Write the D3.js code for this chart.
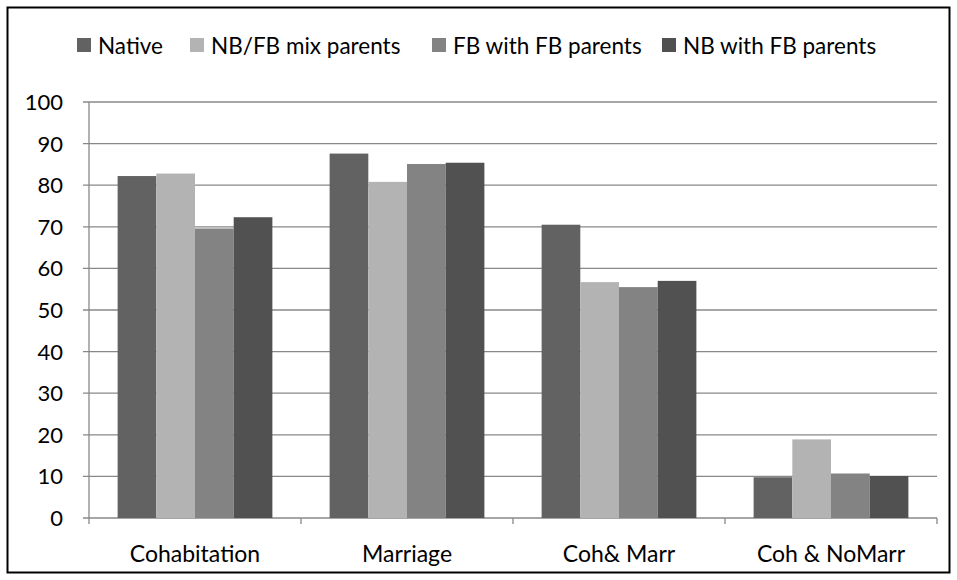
<!DOCTYPE html><html><head><meta charset="utf-8"><script src="https://cdn.jsdelivr.net/npm/d3@7"></script>
<style>body{margin:0;background:#fff}svg text{font-family:Lato,"Open Sans",sans-serif;fill:#000}</style></head><body><svg id="c" width="957" height="580"></svg><script>
const categories=["Cohabitation","Marriage","Coh& Marr","Coh & NoMarr"];
const seriesNames=["Native","NB/FB mix parents","FB with FB parents","NB with FB parents"];
const native=[82.2,87.6,70.5,9.8];
const mix=[82.8,80.8,56.7,18.9];
const fbfb=[69.6,85.1,55.5,10.7];
const nbfb=[72.3,85.4,57.0,10.1];
const colors=["#626262","#b3b3b3","#838383","#515151"];
const yTicks=[0,10,20,30,40,50,60,70,80,90,100];
const data=[native,mix,fbfb,nbfb];
const svg=d3.select("#c");
svg.append("rect").attr("x",7.5).attr("y",7.5).attr("width",942).attr("height",565).attr("fill","none").attr("stroke","#000").attr("stroke-width",2);
const L=89,R=937,T=102,B=518;
const x=d3.scaleBand().domain(categories).range([L,R]).paddingInner(0.27).paddingOuter(0.135);
const xs=d3.scaleBand().domain(seriesNames).range([0,x.bandwidth()]);
const y=d3.scaleLinear().domain([0,100]).range([B,T]);
svg.append("g").selectAll("line").data(yTicks).join("line").attr("x1",L-6).attr("x2",R).attr("y1",d=>y(d)).attr("y2",d=>y(d)).attr("stroke","#888").attr("stroke-width",1.3);
svg.append("line").attr("x1",L).attr("x2",L).attr("y1",T).attr("y2",B).attr("stroke","#888").attr("stroke-width",1.3);
const xb=d3.scaleBand().domain(categories).range([L,R]);
svg.append("g").selectAll("line").data(d3.range(5)).join("line").attr("x1",i=>L+i*xb.step()).attr("x2",i=>L+i*xb.step()).attr("y1",B).attr("y2",B+6).attr("stroke","#888").attr("stroke-width",1.3);
seriesNames.forEach((s,si)=>{svg.append("g").selectAll("rect").data(categories).join("rect")
.attr("x",c=>x(c)+xs(s)).attr("width",xs.bandwidth()).attr("y",(c,i)=>y(data[si][i])).attr("height",(c,i)=>B-y(data[si][i])).attr("fill",colors[si]);});
svg.append("g").selectAll("text").data(yTicks).join("text").attr("x",L-26).attr("y",d=>y(d)).attr("dy","0.36em").attr("text-anchor","end").attr("font-size",22).text(d=>d);
svg.append("g").selectAll("text").data(categories).join("text").attr("x",c=>xb(c)+xb.bandwidth()/2).attr("y",562).attr("text-anchor","middle").attr("font-size",23).text(c=>c);
const lx=[77,190,432,662];
seriesNames.forEach((s,i)=>{svg.append("rect").attr("x",lx[i]).attr("y",38).attr("width",14).attr("height",14).attr("fill",colors[i]);
svg.append("text").attr("x",lx[i]+21).attr("y",54).attr("font-size",22.5).text(s);});
</script></body></html>
